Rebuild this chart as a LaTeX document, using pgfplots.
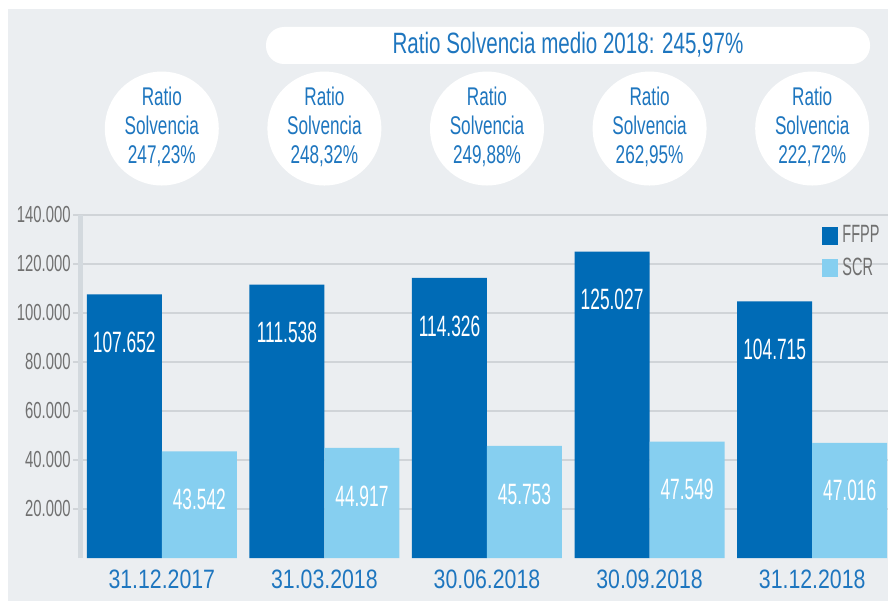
\documentclass[border=0pt]{standalone}
\usepackage{fontspec}
\setmainfont{Liberation Sans}
\newfontfamily\titlef[FakeStretch=0.70]{Liberation Sans}
\newfontfamily\circf[FakeStretch=0.67]{Liberation Sans}
\newfontfamily\tickf[FakeStretch=0.64]{Liberation Sans}
\newfontfamily\dataf[FakeStretch=0.59]{Liberation Sans}
\newfontfamily\xlabf[FakeStretch=0.80]{Liberation Sans}
\newfontfamily\legf[FakeStretch=0.58]{Liberation Sans}
\usepackage{pgfplots}
\pgfplotsset{compat=1.18}
\definecolor{bgc}{HTML}{EBEEF1}
\definecolor{fblue}{HTML}{006BB6}
\definecolor{sblue}{HTML}{86CFF0}
\definecolor{tblue}{HTML}{1E76BF}
\definecolor{greyt}{HTML}{707070}
\definecolor{gridc}{HTML}{D0D4D8}
\definecolor{axbar}{HTML}{D3D9DE}

\pgfplotstableread{
x ffpp scr
0 107652 43542
1 111538 44917
2 114326 45753
3 125027 47549
4 104715 47016
}\solv

\tikzset{circtxt/.style={text=tblue, align=center, yshift=1pt,
  font=\circf\fontsize{12.8pt}{14.5pt}\selectfont}}

\begin{document}
\begin{tikzpicture}
\useasboundingbox (0,0) rectangle (444pt,300.5pt);
\fill[white] (0,0) rectangle (444pt,300.5pt);
\fill[bgc] (4pt,0) rectangle (444pt,296pt);
\fill[white, rounded corners=9pt] (133pt,268.5pt) rectangle (435pt,287pt);
\node[text=tblue, font=\titlef\fontsize{14.7pt}{16pt}\selectfont] at (284pt,278pt) {Ratio Solvencia medio 2018: 245,97\%};
\begin{axis}[
  at={(40pt,21.5pt)}, anchor=south west,
  scale only axis, width=403pt, height=171.5pt,
  xmin=-0.503, xmax=4.454, ymin=0, ymax=140000,
  clip=false,
  axis line style={draw=none},
  ybar=0pt, bar width=37.5pt,
  xtick={0,1,2,3,4},
  xticklabels={31.12.2017,31.03.2018,30.06.2018,30.09.2018,31.12.2018},
  x tick style={draw=none},
  x tick label style={font=\xlabf\fontsize{13.3pt}{14pt}\selectfont, text=tblue, anchor=base, yshift=-11.5pt},
  ytick={20000,40000,60000,80000,100000,120000,140000},
  ymajorgrids, grid style={gridc, line width=0.7pt},
  y tick style={draw=gridc, line width=0.7pt},
  tick align=outside, major tick length=3.5pt,
  scaled y ticks=false,
  y tick label style={font=\tickf\fontsize{11.6pt}{12pt}\selectfont, text=greyt, anchor=east, inner sep=0pt, xshift=-1pt,
    /pgf/number format/.cd, fixed, 1000 sep={.}, assume math mode=true},
  nodes near coords={\pgfmathprintnumber[fixed,1000 sep={.},assume math mode=true]{\pgfplotspointmeta}},
  every node near coord/.append style={font=\dataf\fontsize{14.7pt}{15pt}\selectfont, text=white, anchor=center, yshift=-24pt},
  legend style={at={(rel axis cs:0.9206,0.9825)}, anchor=north west, draw=none, fill=none,
    inner sep=0pt, row sep=2pt, font=\legf\fontsize{12.5pt}{13pt}\selectfont, text=greyt},
  legend cell align=left,
  legend image code/.code={\fill[#1] (0pt,-4.5pt) rectangle (8pt,4.5pt);},
]
\addplot[fill=fblue, draw=none] table[x=x, y=ffpp] {\solv};
\addplot[fill=sblue, draw=none] table[x=x, y=scr] {\solv};
\legend{FFPP,SCR}
\draw[axbar, line width=2.5pt] (rel axis cs:0,0) -- (rel axis cs:0,1);
\fill[white] (axis cs:0,175300) circle[radius=28.5pt];
\fill[white] (axis cs:1,175300) circle[radius=28.5pt];
\fill[white] (axis cs:2,175300) circle[radius=28.5pt];
\fill[white] (axis cs:3,175300) circle[radius=28.5pt];
\fill[white] (axis cs:4,175300) circle[radius=28.5pt];
\node[circtxt] at (axis cs:0,175300) {Ratio\\Solvencia\\247,23\%};
\node[circtxt] at (axis cs:1,175300) {Ratio\\Solvencia\\248,32\%};
\node[circtxt] at (axis cs:2,175300) {Ratio\\Solvencia\\249,88\%};
\node[circtxt] at (axis cs:3,175300) {Ratio\\Solvencia\\262,95\%};
\node[circtxt] at (axis cs:4,175300) {Ratio\\Solvencia\\222,72\%};
\end{axis}
\end{tikzpicture}
\end{document}
